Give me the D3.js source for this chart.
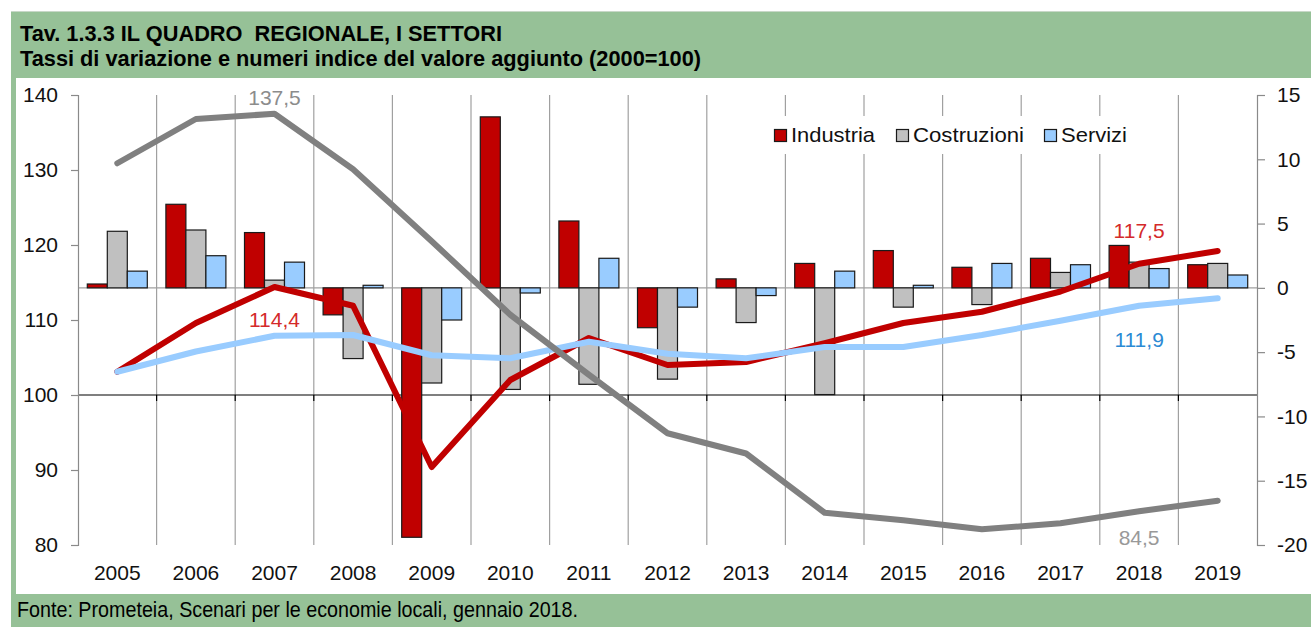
<!DOCTYPE html>
<html lang="it">
<head>
    <meta charset="UTF-8">
    <title>Tav. 1.3.3</title>
    <script src="https://d3js.org/d3.v7.min.js"></script>
    <style>
        body { margin: 0; background: #fff; }
        svg { display: block; font-family: "Liberation Sans", Arial, sans-serif; }
        .tick text { font-size: 21px; fill: #111; }
        .pre { white-space: pre; }
    </style>
</head>
<body>
<script>
    const width = 1311;
    const height = 627;

    // data
    const years = ["2005","2006","2007","2008","2009","2010","2011","2012","2013","2014","2015","2016","2017","2018","2019"];
    const seriesNames = ["Industria", "Costruzioni", "Servizi"];
    // variazioni % (asse destro)
    const industriaVar   = [0.3, 6.5, 4.3, -2.1, -19.4, 13.3, 5.2, -3.1, 0.7, 1.9, 2.9, 1.6, 2.3, 3.3, 1.8];
    const costruzioniVar = [4.4, 4.5, 0.6, -5.5, -7.4, -7.9, -7.5, -7.1, -2.7, -8.3, -1.5, -1.3, 1.2, 2.0, 1.9];
    const serviziVar     = [1.3, 2.5, 2.0, 0.2, -2.5, -0.4, 2.3, -1.5, -0.6, 1.3, 0.2, 1.9, 1.8, 1.5, 1.0];
    // numeri indice 2000=100 (asse sinistro)
    const industriaIdx   = [103.1, 109.6, 114.4, 111.9, 90.4, 102.0, 107.6, 104.0, 104.4, 106.9, 109.6, 111.1, 113.8, 117.5, 119.2];
    const costruzioniIdx = [130.9, 136.8, 137.5, 130.1, 120.5, 110.7, 102.7, 94.9, 92.2, 84.3, 83.3, 82.1, 82.9, 84.5, 85.9];
    const serviziIdx     = [103.1, 105.8, 107.9, 108.0, 105.3, 104.9, 107.1, 105.5, 104.9, 106.4, 106.4, 108.0, 109.9, 111.9, 112.9];
    const leftTicks = [80, 90, 100, 110, 120, 130, 140];
    const rightTicks = [-20, -15, -10, -5, 0, 5, 10, 15];

    const colors = {Industria: "#c00000", Costruzioni: "#c0c0c0", Servizi: "#99ccff"};
    const lineColors = {Industria: "#c00000", Costruzioni: "#808080", Servizi: "#99ccff"};
    const green = "#96c197";

    const plot = {left: 78, right: 1257, top: 95, bottom: 545};

    const svg = d3.select("body").append("svg")
            .attr("width", width).attr("height", height);

    // green frame
    svg.append("rect").attr("x", 11).attr("y", 11).attr("width", width - 11).attr("height", height - 11)
        .attr("fill", green);
    svg.append("line").attr("x1", 11).attr("x2", width).attr("y1", 11.5).attr("y2", 11.5)
        .attr("stroke", "#c8d8c8");
    svg.append("rect").attr("x", 16).attr("y", 78).attr("width", width - 16).attr("height", 594 - 78)
        .attr("fill", "#fff");

    svg.append("text").attr("class", "pre").attr("x", 20).attr("y", 40.5)
        .attr("font-size", 22).attr("font-weight", "bold")
        .attr("textLength", 482).attr("lengthAdjust", "spacingAndGlyphs")
        .text("Tav. 1.3.3 IL QUADRO  REGIONALE, I SETTORI");
    svg.append("text").attr("x", 20).attr("y", 65.5)
        .attr("font-size", 22).attr("font-weight", "bold")
        .attr("textLength", 681).attr("lengthAdjust", "spacingAndGlyphs")
        .text("Tassi di variazione e numeri indice del valore aggiunto (2000=100)");
    svg.append("text").attr("x", 17).attr("y", 617)
        .attr("font-size", 22)
        .attr("textLength", 561).attr("lengthAdjust", "spacingAndGlyphs")
        .text("Fonte: Prometeia, Scenari per le economie locali, gennaio 2018.");

    // scales
    const x = d3.scaleBand().domain(years)
        .range([plot.left, plot.right])
        .paddingInner(0.2366).paddingOuter(0.1183);
    const step = x.step();
    const xSub = d3.scaleBand().domain(seriesNames).range([0, x.bandwidth()]);
    const yL = d3.scaleLinear().domain([80, 140]).range([plot.bottom, plot.top]);
    const yR = d3.scaleLinear().domain([-20, 15]).range([plot.bottom, plot.top]);
    const cx = d => x(d) + x.bandwidth() / 2;

    // vertical gridlines at category boundaries
    const bounds = years.slice(1).map(y => x(y) - step * x.paddingInner() / 2);
    svg.append("g").selectAll("line").data(bounds).enter().append("line")
        .attr("x1", d => d).attr("x2", d => d)
        .attr("y1", plot.top).attr("y2", plot.bottom)
        .attr("stroke", "#a0a0a0").attr("stroke-width", 1.2);

    // zero line of the bars
    svg.append("line").attr("x1", plot.left).attr("x2", plot.right)
        .attr("y1", yR(0)).attr("y2", yR(0))
        .attr("stroke", "#a0a0a0").attr("stroke-width", 1.2);

    // category axis across 100
    const xAxis = svg.append("g");
    xAxis.append("line").attr("x1", plot.left).attr("x2", plot.right)
        .attr("y1", yL(100)).attr("y2", yL(100))
        .attr("stroke", "#000").attr("stroke-width", 1.2);
    xAxis.selectAll("line.tk").data(bounds).enter().append("line").attr("class", "tk")
        .attr("x1", d => d).attr("x2", d => d)
        .attr("y1", yL(100)).attr("y2", yL(100) + 6)
        .attr("stroke", "#000").attr("stroke-width", 1.2);

    // bars
    const barData = years.map((yr, i) => ({
        year: yr,
        values: [
            {name: "Industria", v: industriaVar[i]},
            {name: "Costruzioni", v: costruzioniVar[i]},
            {name: "Servizi", v: serviziVar[i]}
        ]
    }));
    svg.append("g").selectAll("g").data(barData).enter().append("g")
        .attr("transform", d => `translate(${x(d.year)},0)`)
        .selectAll("rect").data(d => d.values).enter().append("rect")
        .attr("x", d => xSub(d.name))
        .attr("width", xSub.bandwidth())
        .attr("y", d => yR(Math.max(0, d.v)))
        .attr("height", d => Math.abs(yR(d.v) - yR(0)))
        .attr("fill", d => colors[d.name])
        .attr("stroke", "#1a1a1a").attr("stroke-width", 1.2);

    // legend
    const legend = svg.append("g");
    legend.append("rect").attr("x", 765).attr("y", 116).attr("width", 370).attr("height", 38).attr("fill", "#fff");
    const legendItems = [
        {name: "Industria", x: 774, w: 84},
        {name: "Costruzioni", x: 896, w: 111},
        {name: "Servizi", x: 1044, w: 66}
    ];
    legendItems.forEach(function(d) {
        legend.append("rect").attr("x", d.x + 0.5).attr("y", 129.5).attr("width", 12).attr("height", 12)
            .attr("fill", colors[d.name]).attr("stroke", "#1a1a1a").attr("stroke-width", 1.2);
        legend.append("text").attr("x", d.x + 17).attr("y", 142)
            .attr("font-size", 21).attr("fill", "#111")
            .attr("textLength", d.w).attr("lengthAdjust", "spacingAndGlyphs")
            .text(d.name);
    });

    // index lines
    const line = d3.line().x(d => cx(d.year)).y(d => yL(d.v));
    const lineData = [
        {name: "Industria", values: industriaIdx},
        {name: "Servizi", values: serviziIdx},
        {name: "Costruzioni", values: costruzioniIdx}
    ];
    lineData.forEach(function(s) {
        svg.append("path")
            .datum(years.map((yr, i) => ({year: yr, v: s.values[i]})))
            .attr("d", line)
            .attr("fill", "none")
            .attr("stroke", lineColors[s.name])
            .attr("stroke-width", 6)
            .attr("stroke-linejoin", "round")
            .attr("stroke-linecap", "round");
    });

    // value labels
    const fmt = v => d3.format(".1f")(v).replace(".", ",");
    const labels = [
        {year: "2007", v: costruzioniIdx[2], dy: -9, color: "#8c8c8c"},
        {year: "2007", v: industriaIdx[2], dy: 40, color: "#d42a2a"},
        {year: "2018", v: industriaIdx[13], dy: -26, color: "#d42a2a"},
        {year: "2018", v: serviziIdx[13], dy: 41, color: "#2b8ad4"},
        {year: "2018", v: costruzioniIdx[13], dy: 34, color: "#999"}
    ];
    svg.append("g").selectAll("text").data(labels).enter().append("text")
        .attr("x", d => cx(d.year))
        .attr("y", d => yL(d.v) + d.dy)
        .attr("text-anchor", "middle")
        .attr("font-size", 21)
        .attr("fill", d => d.color)
        .text(d => fmt(d.v));

    // axes
    const leftAxis = svg.append("g")
        .attr("transform", `translate(${plot.left},0)`)
        .call(d3.axisLeft(yL).tickValues(leftTicks).tickSize(7).tickPadding(13));
    leftAxis.selectAll("path, line").attr("stroke", "#8a8a8a").attr("stroke-width", 1.2);

    const rightAxis = svg.append("g")
        .attr("transform", `translate(${plot.right},0)`)
        .call(d3.axisRight(yR).tickValues(rightTicks).tickSize(8).tickPadding(12)
            .tickFormat(d => String(d)));
    rightAxis.selectAll("path, line").attr("stroke", "#8a8a8a").attr("stroke-width", 1.2);
    rightAxis.selectAll(".tick text").attr("fill", d => d < 0 ? "#ff0000" : "#111");

    const bottomAxis = svg.append("g")
        .attr("transform", `translate(0,${plot.bottom})`)
        .call(d3.axisBottom(x).tickSize(0).tickPadding(20));
    bottomAxis.select(".domain").remove();

    // let the axes use the page font
    [leftAxis, rightAxis, bottomAxis].forEach(a => a.attr("font-family", null).attr("font-size", null));
</script>
</body>
</html>
